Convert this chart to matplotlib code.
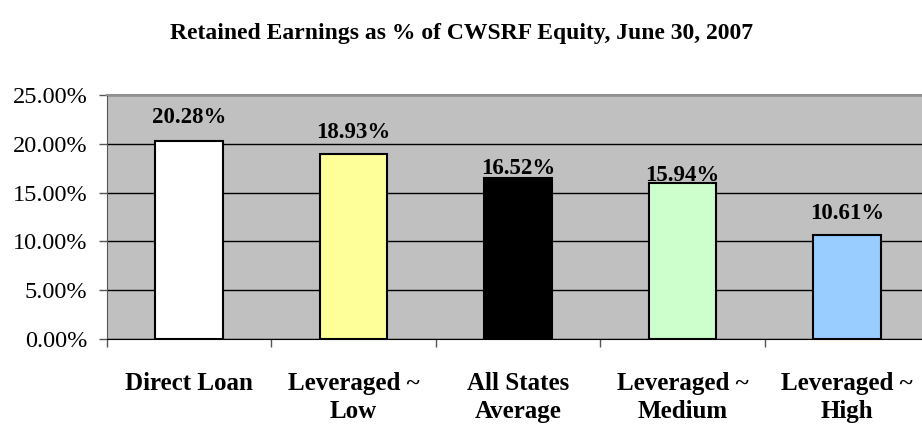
import matplotlib
matplotlib.use("Agg")
import matplotlib.pyplot as plt
import numpy as np

categories = ["Direct Loan", "Leveraged ~\nLow", "All States\nAverage", "Leveraged ~\nMedium", "Leveraged ~\nHigh"]
values = [20.28, 18.93, 16.52, 15.94, 10.61]
colors = ["#FFFFFF", "#FFFF99", "#000000", "#CCFFCC", "#99CCFF"]
yticks = [0, 5, 10, 15, 20, 25]

# label gap above each bar (points), as placed in the original
label_gaps = [13, 11.5, 3, 1.5, 12]

plt.rcParams['font.family'] = ['Liberation Serif', 'DejaVu Serif']

fig = plt.figure(figsize=(9.22, 4.25), dpi=100)
ax = fig.add_axes([107/922, (425-339)/425, (929-107)/922, (339-95)/425])
ax.set_facecolor("#C0C0C0")

x = np.arange(len(categories))
ax.bar(x, values, width=0.41, color=colors, edgecolor="black", linewidth=1.5, zorder=3)
for xi, v, g in zip(x, values, label_gaps):
    ax.annotate(f"{v:.2f}%", (xi, v), xytext=(0, g), textcoords="offset points",
                ha="center", va="baseline", fontsize=16.5, fontweight="bold", zorder=4)

ax.set_ylim(0, 25)
ax.set_xlim(-0.5, len(categories) - 0.5)
ax.set_yticks(yticks)
ax.set_yticklabels([f"{t:.2f}%" for t in yticks], fontsize=17.5)
ax.yaxis.grid(True, color="black", linewidth=1.0, zorder=1)
ax.set_axisbelow(True)
ax.tick_params(axis="y", direction="out", length=6, width=1, pad=8, color="#555555")

ax.set_xticks(np.arange(len(categories) + 1) - 0.5)
ax.set_xticklabels([])
ax.tick_params(axis="x", direction="out", length=6, width=1, color="#555555")
ax.set_xticks(x, minor=True)
ax.set_xticklabels(categories, minor=True, fontsize=18, fontweight="bold", linespacing=1.25)
ax.tick_params(axis="x", which="minor", length=0, pad=24)

ax.spines["right"].set_visible(False)
ax.spines["top"].set_color("#909090")
ax.spines["top"].set_linewidth(1.5)
ax.spines["left"].set_color("#555555")
ax.spines["bottom"].set_color("black")

fig.text(462/922, 1 - 33/425, "Retained Earnings as % of CWSRF Equity, June 30, 2007",
         ha="center", va="center", fontsize=17, fontweight="bold")

fig.savefig("out.png", dpi=100)
